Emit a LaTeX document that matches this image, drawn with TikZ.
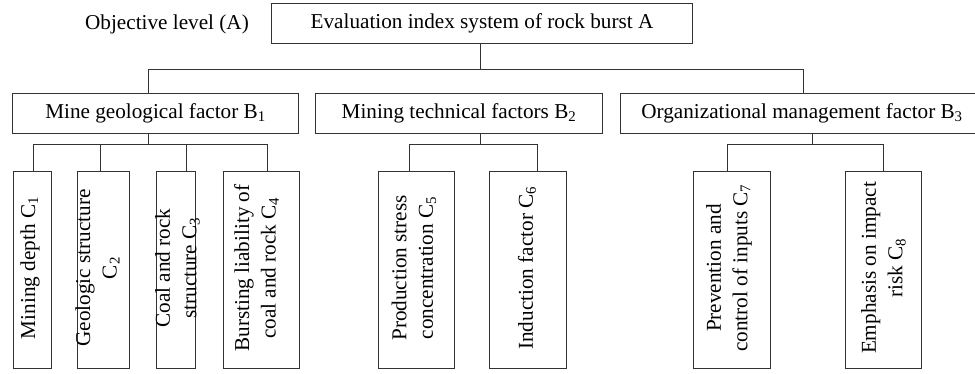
\documentclass[tikz,border=0pt]{standalone}
\usepackage{fontspec}
\setmainfont{Liberation Serif}
\begin{document}
\begin{tikzpicture}[x=1pt,y=-1pt,
  box/.style={draw=black!80, line width=1pt, inner sep=0pt, anchor=north west,
    font=\fontsize{21.2}{26.5}\selectfont},
  lbl/.style={font=\fontsize{21.2}{26.5}\selectfont, inner sep=0pt, align=center},
  vlbl/.style={lbl, rotate=90},
  link/.style={draw=black!80, line width=1pt}]
\useasboundingbox (0,0) rectangle (975,373);
% level A
\node[lbl] (obj) at (167,24) {Objective level (A)};
\node[box, minimum width=421pt, minimum height=40pt] (A) at (271,3) {Evaluation index system of rock burst A};
% level B
\node[box, minimum width=286pt, minimum height=40pt] (B1) at (12,93) {Mine geological factor B\textsubscript{1}};
\node[box, minimum width=287pt, minimum height=40pt] (B2) at (315,93) {Mining technical factors B\textsubscript{2}};
\node[box, minimum width=362pt, minimum height=40pt] (B3) at (620,93) {};
\node[lbl] (B3t) at (802,113) {Organizational management factor B\textsubscript{3}};
% level C boxes
\node[box, minimum width=38pt, minimum height=197pt] (C1) at (13,171) {};
\node[box, minimum width=52pt, minimum height=197pt] (C2) at (77,171) {};
\node[box, minimum width=39pt, minimum height=197pt] (C3) at (156,171) {};
\node[box, minimum width=76pt, minimum height=197pt] (C4) at (223,171) {};
\node[box, minimum width=76pt, minimum height=197pt] (C5) at (378,171) {};
\node[box, minimum width=77pt, minimum height=197pt] (C6) at (489,171) {};
\node[box, minimum width=77pt, minimum height=197pt] (C7) at (693,171) {};
\node[box, minimum width=76pt, minimum height=197pt] (C8) at (845,171) {};
% level C labels
\node[vlbl] (C1t) at (30,268) {Mining depth C\textsubscript{1}};
\node[vlbl] (C2t) at (97.5,268) {Geologic structure\\C\textsubscript{2}};
\node[vlbl] (C3t) at (177.5,268) {Coal and rock\\structure C\textsubscript{3}};
\node[vlbl] (C4t) at (256.5,268) {Bursting liability of\\coal and rock C\textsubscript{4}};
\node[vlbl] (C5t) at (414,268) {Production stress\\concentration C\textsubscript{5}};
\node[vlbl] (C6t) at (527,268) {Induction factor C\textsubscript{6}};
\node[vlbl] (C7t) at (729,268) {Prevention and\\control of inputs C\textsubscript{7}};
\node[vlbl] (C8t) at (883.5,268) {Emphasis on impact\\risk C\textsubscript{8}};
% junctions
\coordinate (jA) at (480,69);
\coordinate (jB1) at (148,69);
\coordinate (jB3) at (803,69);
\coordinate (b1j) at (148,144);
\coordinate (b2j) at (480,144);
\coordinate (b3j) at (812,144);
\coordinate (d1) at (33,144);
\coordinate (d2) at (100,144);
\coordinate (d3) at (186,144);
\coordinate (d4) at (267,144);
\coordinate (d5) at (409,144);
\coordinate (d6) at (537,144);
\coordinate (d7) at (727,144);
\coordinate (d8) at (883,144);
% connectors A -> B
\draw[link] (A.south -| jA) -- (jA);
\draw[link] (B1.north -| jB1) -- (jB1) -- (jB3) -- (B3.north -| jB3);
% B1 -> C1..C4
\draw[link] (B1.south -| b1j) -- (b1j);
\draw[link] (C1.north -| d1) -- (d1) -- (d4) -- (C4.north -| d4);
\draw[link] (C2.north -| d2) -- (d2);
\draw[link] (C3.north -| d3) -- (d3);
% B2 -> C5, C6
\draw[link] (B2.south -| b2j) -- (b2j);
\draw[link] (C5.north -| d5) -- (d5) -- (d6) -- (C6.north -| d6);
% B3 -> C7, C8
\draw[link] (B3.south -| b3j) -- (b3j);
\draw[link] (C7.north -| d7) -- (d7) -- (d8) -- (C8.north -| d8);
\end{tikzpicture}
\end{document}
